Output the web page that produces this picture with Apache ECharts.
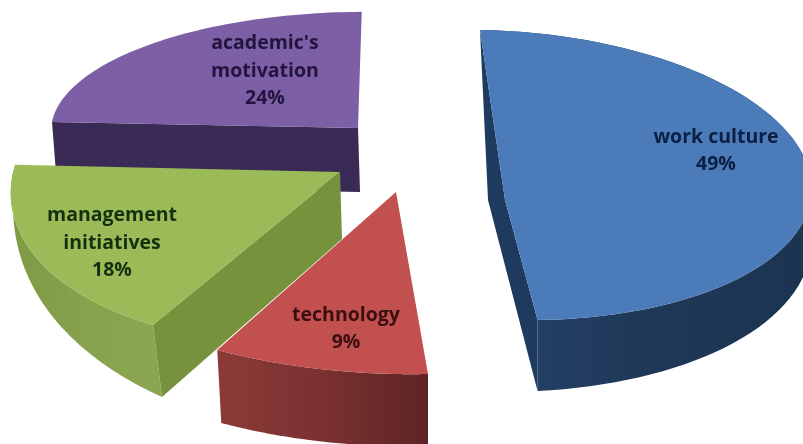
<!DOCTYPE html>
<html>
<head>
<meta charset="utf-8">
<style>html,body{margin:0;padding:0;background:#fff}#chart{width:803px;height:444px}</style>
<script src="https://cdn.jsdelivr.net/npm/echarts@6/dist/echarts.min.js"></script>
</head>
<body>
<div id="chart"></div>
<script>
// Shares of each factor, in percent
const names = ["academic's\nmotivation", 'work culture', 'technology', 'management\ninitiatives'];
const shares = [24, 49, 9, 18];

// Colours of the top faces, side walls and labels
const topColors = ['#7c5fa4', '#4b7cb9', '#c2504e', '#9bbb59'];
const labelColors = ['#21143f', '#0b1f44', '#3a0f10', '#16300f'];
const arcWallStops = [
  null,
  ['#26436c', '#1e3857', '#1c3452'],
  ['#8c3a38', '#7a3130', '#5e2425'],
  ['#7e9a45', '#86a24c', '#8aa652']
];

// Tilted frame of each exploded slice: hub, vector to the first rim point, conjugate rim vector
const hubs = [[358, 128], [499, 175], [396, 192], [340, 172]];
const rimA = [[-306, -6], [-19, -145], [32, 182], [-187, 153]];
const rimB = [[23, -116], [312, 5], [-384, 8], [-271, -80]];
// Wall depth at the first and last rim point, and how fast it grows along the rim
const depthFirst = [[5, 64], [0, 0], [0, 72], [9, 72]];
const depthLast = [[0, 0], [0, 71], [4, 73], [0, 0]];
const depthPower = [1, 0.5, 1, 0.7];
// Perspective kink of the straight edge on the large slice
const apexTop = [[0, 0], [6, 25], [0, 0], [0, 0]];
const apexBottom = [[2, 64], [-11, 25], [0, 0], [2, 67]];
// Radial wall: which rim end it reaches (0 first, 1 last, -1 none)
const radialEnd = [0, 1, -1, 0];
const radialColors = ['#3a2a56', '#1f3a5f', null, '#76923c'];
// Label centres and line height
const labelAt = [[265, 71], [716, 151], [346, 329], [112, 243]];
const labelLine = 27.5;

const TAU_DEG = 3.6;

function sliceGraphic(i, share) {
  const sweep = share * TAU_DEG * Math.PI / 180;
  const hub = hubs[i], a = rimA[i], b = rimB[i];
  const first = depthFirst[i], last = depthLast[i];
  const growsFromZero = first[0] === 0 && first[1] === 0;
  const shrinksToZero = last[0] === 0 && last[1] === 0;
  const steps = 72, rim = [], lower = [];
  for (let k = 0; k <= steps; k++) {
    const s = k / steps, t = s * sweep;
    const p = [hub[0] + a[0] * Math.cos(t) + b[0] * Math.sin(t),
               hub[1] + a[1] * Math.cos(t) + b[1] * Math.sin(t)];
    rim.push(p);
    let dx, dy;
    if (growsFromZero) {
      const g = Math.pow(s, depthPower[i]);
      dx = last[0] * g; dy = last[1] * g;
    } else if (shrinksToZero) {
      const g = Math.pow(1 - s, depthPower[i]);
      dx = first[0] * g; dy = first[1] * g;
    } else {
      dx = first[0] + (last[0] - first[0]) * s;
      dy = first[1] + (last[1] - first[1]) * s;
    }
    lower.push([p[0] + dx, p[1] + dy]);
  }
  const apex = [hub[0] + apexTop[i][0], hub[1] + apexTop[i][1]];
  const children = [];

  // Curved outer wall
  if (arcWallStops[i]) {
    const xs = rim.map(p => p[0]);
    const st = arcWallStops[i];
    children.push({
      type: 'polygon',
      shape: { points: rim.concat(lower.slice().reverse()) },
      style: {
        fill: {
          type: 'linear', global: true,
          x: Math.min.apply(null, xs), y: 0, x2: Math.max.apply(null, xs), y2: 0,
          colorStops: [
            { offset: 0, color: st[0] },
            { offset: 0.5, color: st[1] },
            { offset: 1, color: st[2] }
          ]
        }
      }
    });
  }

  // Flat wall along the straight edge
  if (radialEnd[i] >= 0) {
    const idx = radialEnd[i] === 0 ? 0 : steps;
    const far = rim[idx], farLow = lower[idx];
    const apexLow = [hub[0] + apexBottom[i][0], hub[1] + apexBottom[i][1]];
    const pts = i === 1
      ? [rim[0], apex, far, farLow, apexLow]
      : [apex, far, farLow, apexLow];
    children.push({
      type: 'polygon', shape: { points: pts },
      style: { fill: radialColors[i] }
    });
  }

  // Top face
  children.push({
    type: 'polygon',
    shape: { points: [apex].concat(rim) },
    style: { fill: topColors[i] }
  });

  // Label: name lines followed by the percentage
  const lines = names[i].split('\n').concat([share + '%']);
  lines.forEach((line, n) => {
    children.push({
      type: 'text',
      style: {
        text: line,
        x: labelAt[i][0],
        y: labelAt[i][1] + (n - (lines.length - 1) / 2) * labelLine,
        align: 'center', verticalAlign: 'middle',
        fontFamily: 'Open Sans', fontWeight: 'bold', fontSize: 19.5,
        fill: labelColors[i]
      }
    });
  });
  return { type: 'group', children };
}

const chart = echarts.init(document.getElementById('chart'), null, { renderer: 'canvas' });
chart.setOption({
  backgroundColor: '#ffffff',
  animation: false,
  series: [{
    type: 'custom',
    coordinateSystem: 'none',
    silent: true,
    clip: false,
    data: shares.map((v, i) => ({ name: names[i], value: [v] })),
    renderItem: (params, api) => sliceGraphic(params.dataIndex, api.value(0))
  }]
});
</script>
</body>
</html>
